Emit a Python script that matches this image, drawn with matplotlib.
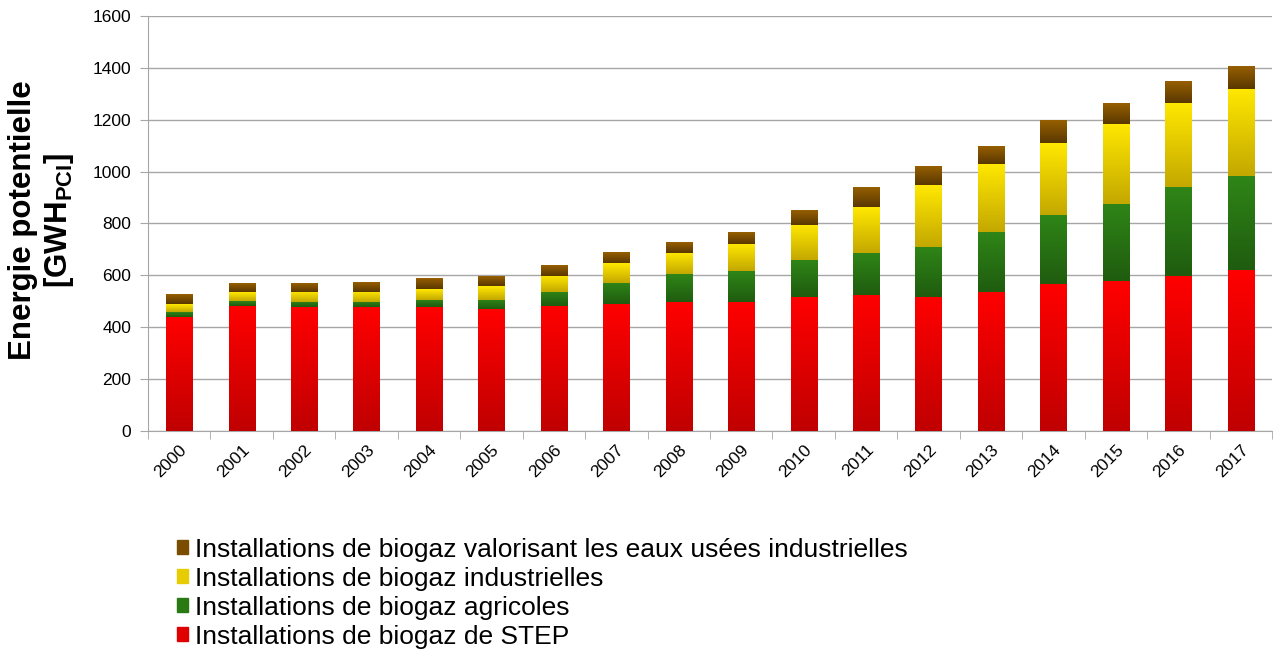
import numpy as np
import matplotlib
matplotlib.use('Agg')
import matplotlib.pyplot as plt
from matplotlib.colors import LinearSegmentedColormap
from matplotlib.patches import Patch

plt.rcParams['font.family'] = ['Liberation Sans', 'DejaVu Sans']

# data (GWh PCI)
years = [str(y) for y in range(2000, 2018)]
step = [441, 483, 477, 477, 478, 470, 483, 488, 499, 499, 515, 525, 518, 535, 568, 578, 599, 620]
agricoles = [19, 19, 20, 20, 28, 36, 54, 84, 106, 118, 144, 162, 193, 231, 265, 297, 340, 362]
industrielles = [28, 34, 39, 39, 41, 53, 62, 74, 82, 105, 135, 175, 239, 264, 277, 310, 327, 338]
eaux_usees = [36, 31, 33, 37, 39, 35, 40, 41, 40, 44, 54, 74, 73, 69, 85, 78, 84, 86]

series = [
    ('Installations de biogaz de STEP', step, '#e00000', ('#c00000', '#ff0000')),
    ('Installations de biogaz agricoles', agricoles, '#2a7a14', ('#1f5c0f', '#2f8517')),
    ('Installations de biogaz industrielles', industrielles, '#e6cc00', ('#c4a800', '#ffe800')),
    ('Installations de biogaz valorisant les eaux usées industrielles', eaux_usees, '#7a4d00', ('#5a3800', '#965f00')),
]

fig = plt.figure(figsize=(12.76, 6.52), dpi=100)
ax = fig.add_axes([148/1276, 1-431/652, 1124/1276, 415/652])

x = np.arange(len(years))
width = 0.42
bottom = np.zeros(len(years))
grad = np.linspace(0, 1, 64).reshape(-1, 1)
for label, vals, col, (c0, c1) in series:
    vals = np.array(vals, dtype=float)
    bars = ax.bar(x, vals, width, bottom=bottom, color=col, label=label, zorder=2)
    cmap = LinearSegmentedColormap.from_list(label, [c0, c1])
    for b in bars:
        bx, by = b.get_x(), b.get_y()
        ax.imshow(grad, cmap=cmap, origin='lower', aspect='auto', zorder=3,
                  extent=(bx, bx + b.get_width(), by, by + b.get_height()))
    bottom += vals

ax.set_xlim(-0.5, len(years) - 0.5)
ax.set_ylim(0, 1600)
ax.set_yticks(range(0, 1601, 200))
ax.yaxis.grid(True, color='#a6a6a6', lw=1)
ax.set_axisbelow(True)
for s in ['top', 'right']:
    ax.spines[s].set_visible(False)
for s in ['left', 'bottom']:
    ax.spines[s].set_color('#a6a6a6')

ax.set_xticks(x)
ax.set_xticklabels(years, rotation=45, ha='right', rotation_mode='anchor')
ax.set_xticks(np.arange(-0.5, len(years), 1), minor=True)
ax.tick_params(axis='x', which='major', length=0, labelsize=12.5, pad=8)
ax.tick_params(axis='x', which='minor', length=6, color='#a6a6a6')
ax.tick_params(axis='y', length=6, color='#a6a6a6', labelsize=12.5, pad=6)

fig.text(42/1276, 1-220/652, 'Energie potentielle\n[GWH$_{\\mathregular{PCI}}$]',
         rotation=90, ha='center', va='center', fontsize=22.5, fontweight='bold',
         linespacing=1.12)

handles = [Patch(color=s[2]) for s in series][::-1]
labels = [s[0] for s in series][::-1]
fig.legend(handles, labels, loc='upper left', bbox_to_anchor=(166/1276, 1-527/652),
           frameon=False, fontsize=19, handlelength=0.45, handleheight=0.45,
           handletextpad=0.25, labelspacing=0.19, borderaxespad=0)

fig.savefig('out.png', dpi=100)
